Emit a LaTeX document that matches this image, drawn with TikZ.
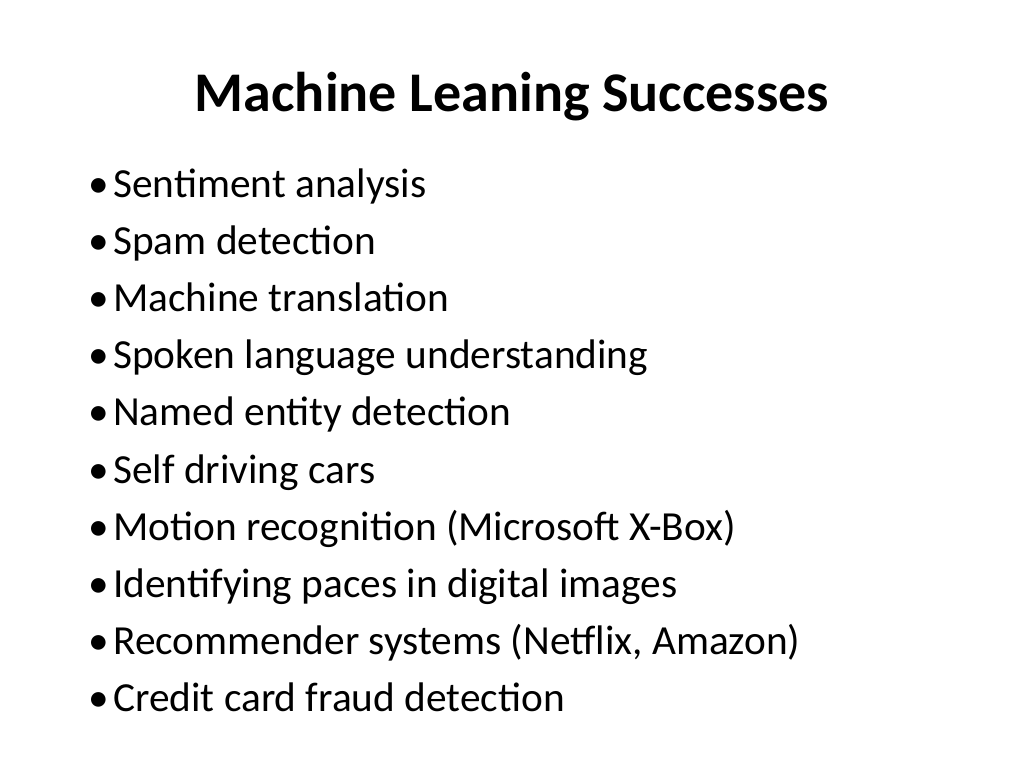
\documentclass[tikz,border=0pt]{standalone}
\usepackage{fontspec}
\setmainfont{Carlito}
\usetikzlibrary{positioning}

\tikzset{
  title/.style={font=\fontsize{42}{50}\selectfont\bfseries, anchor=base},
  item/.style={font=\fontsize{31}{37}\selectfont, anchor=base west, inner sep=0pt},
  dot/.style={font=\fontsize{31}{37}\selectfont, anchor=base east, inner sep=0pt}
}

\begin{document}
\begin{tikzpicture}[x=0.75pt, y=-0.75pt]
    \useasboundingbox (0,0) rectangle (1024,768);
    \node[title] (heading) at (512,111) {Machine Leaning Successes} ; %
% bullet list
    \foreach \txt [count=\i] in {Sentiment analysis, Spam detection, Machine translation,
        Spoken language understanding, Named entity detection, Self driving cars,
        Motion recognition (Microsoft X-Box), Identifying paces in digital images,
        {Recommender systems (Netflix, Amazon)}, Credit card fraud detection} {
        \node[item] (entry\i) at (113,{197+57.2*(\i-1)}) {\txt} ;
        \node[dot] (bullet\i) at (109,{197+57.2*(\i-1)}) {\textbullet} ;
    }
\end{tikzpicture}
\end{document}
